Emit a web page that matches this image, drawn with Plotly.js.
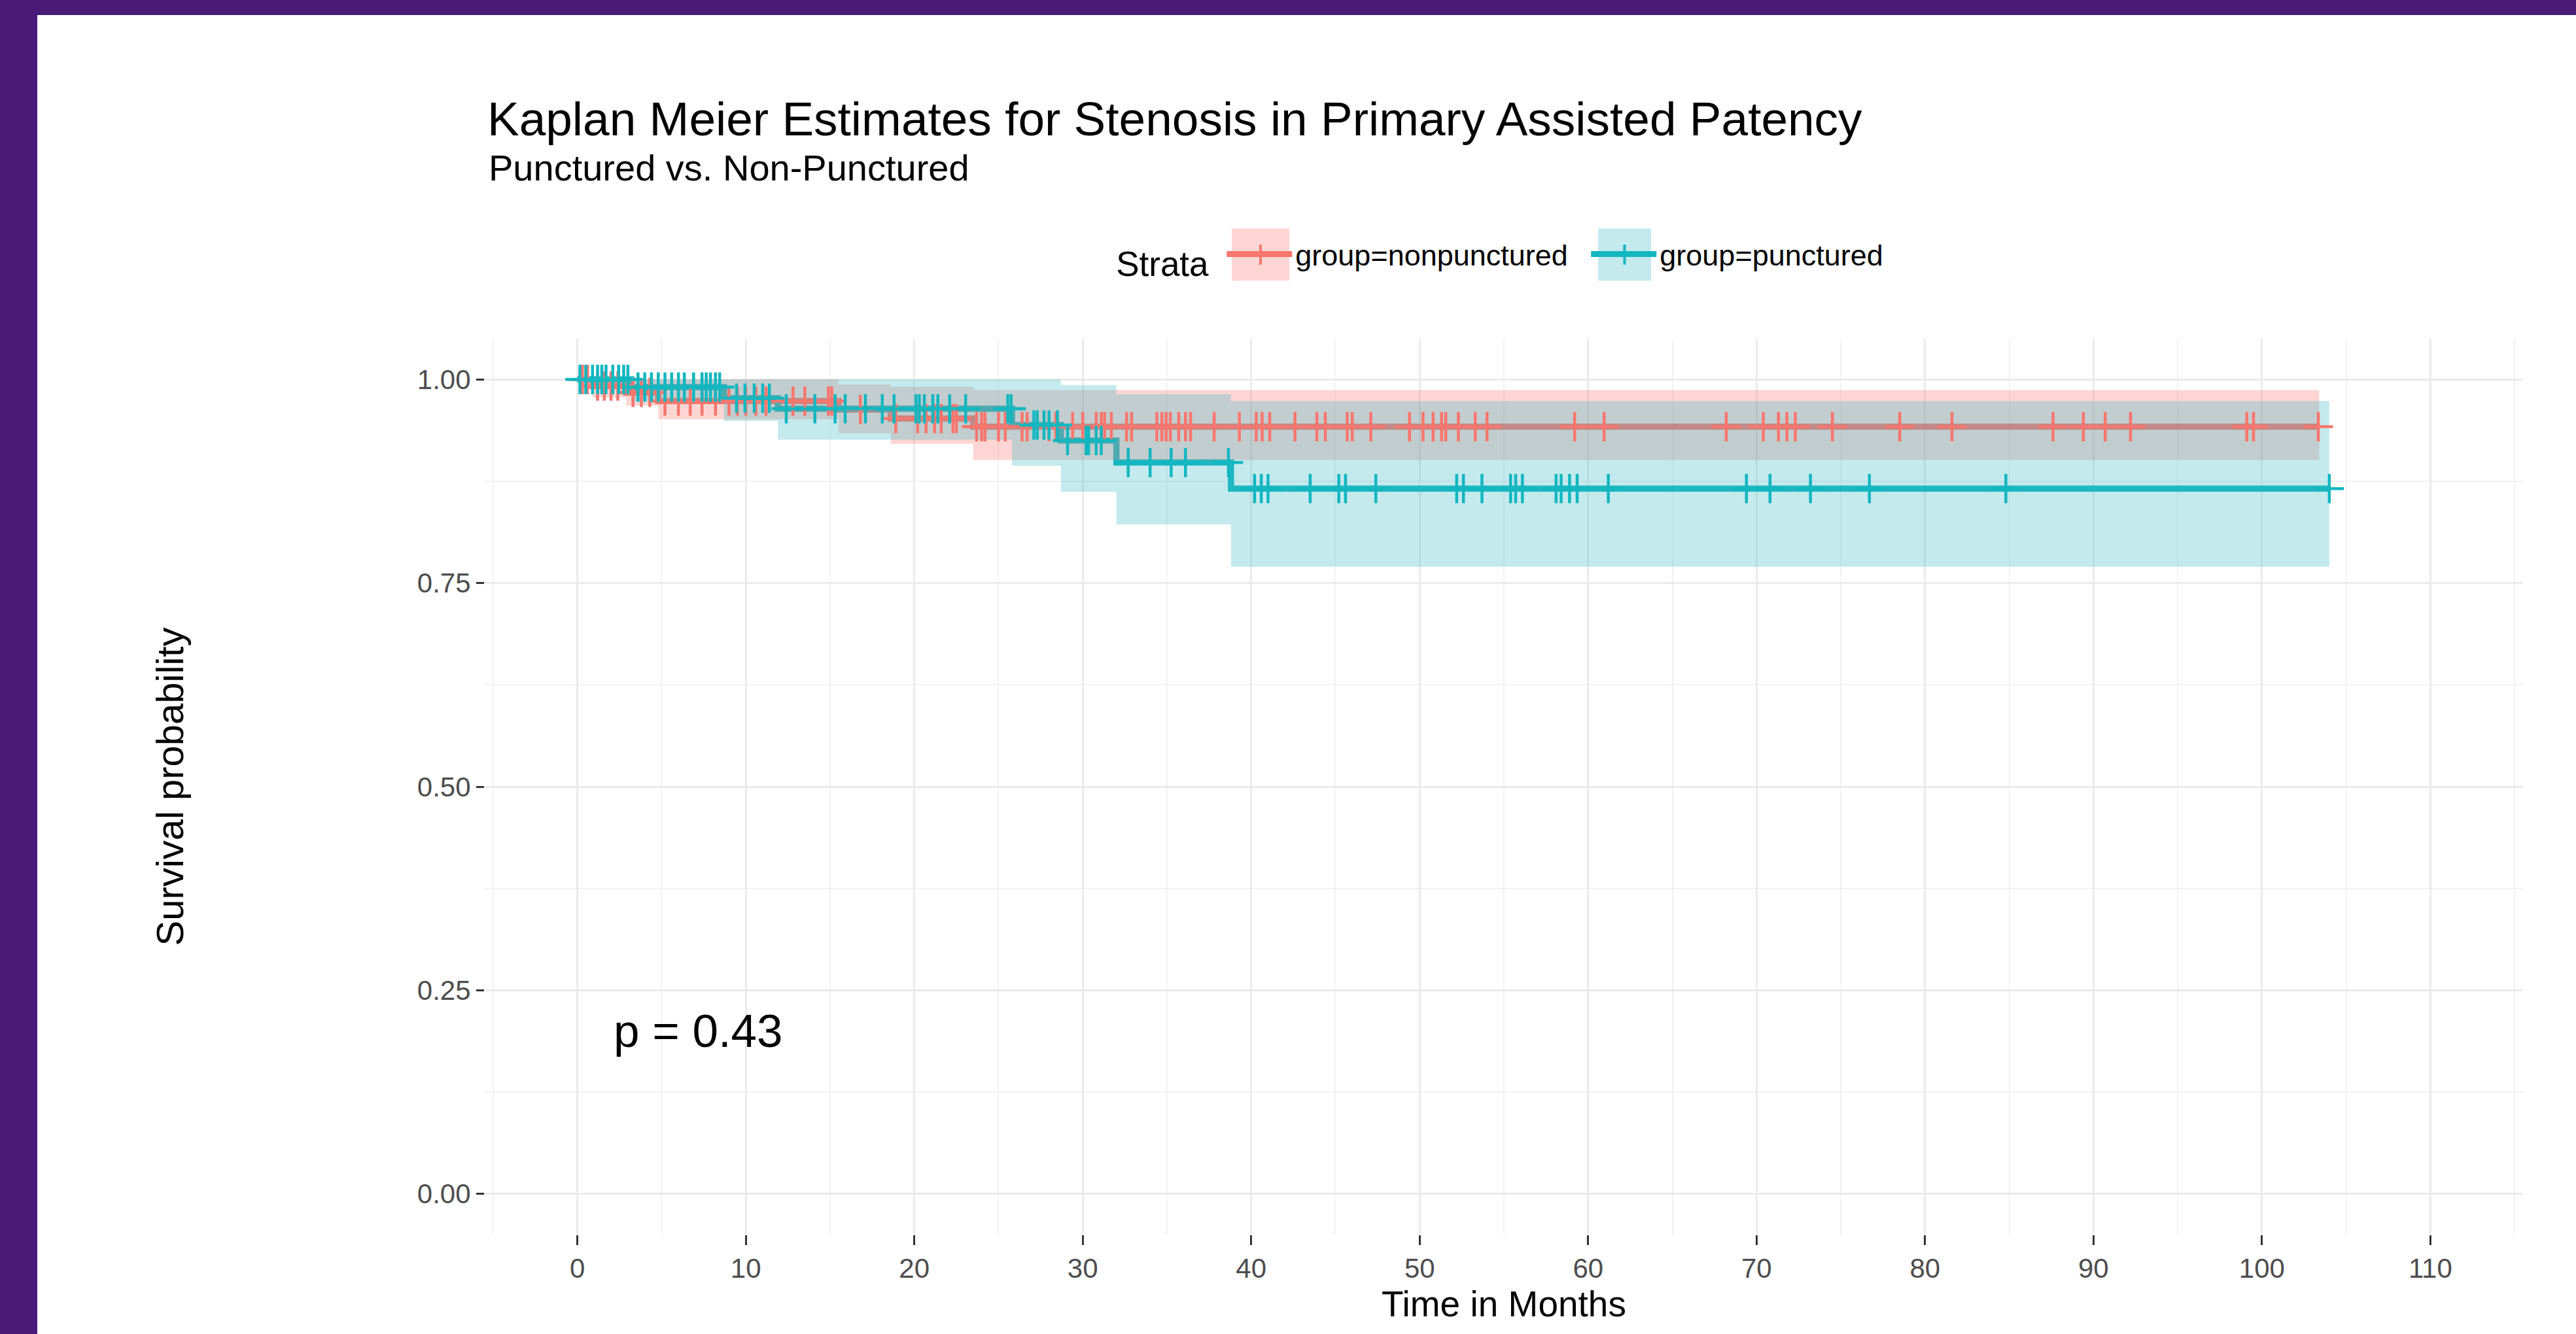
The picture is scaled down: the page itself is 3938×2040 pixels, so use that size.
<!DOCTYPE html>
<html><head><meta charset="utf-8">
<script src="https://cdn.plot.ly/plotly-3.0.1.min.js"></script>
<style>
html,body{margin:0;padding:0;background:#4A1A77;width:3938px;height:2040px;overflow:hidden;}
#chart{position:absolute;left:57px;top:23px;width:3881px;height:2017px;background:#fff;}
</style></head><body><div id="chart"></div>
<script>
// ---- data ----
const groupNames = ['group=nonpunctured', 'group=punctured'];
// nonpunctured (red) Kaplan-Meier steps
const redTime  = [0, 0.9, 2.9, 4.8, 15.5, 18.6, 23.5, 103.4];
const redSurv  = [1, 0.992, 0.984, 0.9735, 0.963, 0.952, 0.942, 0.942];
const redUpper = [1, 1, 1, 1, 0.994, 0.991, 0.987, 0.987];
const redLower = [1, 0.978, 0.968, 0.951, 0.934, 0.921, 0.901, 0.901];
// punctured (teal) Kaplan-Meier steps
const tealTime  = [0, 3.2, 8.7, 11.9, 25.8, 28.7, 32.0, 38.8, 104.0];
const tealSurv  = [1, 0.9906, 0.977, 0.964, 0.944, 0.925, 0.898, 0.866, 0.866];
const tealUpper = [1, 1, 1, 1, 1, 0.993, 0.982, 0.9735, 0.9735];
const tealLower = [1, 0.973, 0.949, 0.926, 0.894, 0.862, 0.822, 0.770, 0.770];
// censoring times
const redCensor = [0.3, 0.6, 1.2, 1.6, 2.0, 2.4, 3.3, 3.8, 4.3, 5.2, 6.0, 6.7, 7.4, 8.2, 9.0, 9.5, 10.0, 10.6, 11.2,
  12.8, 13.5, 14.9, 15.1, 16.8, 18.9, 20.2, 20.7, 21.2, 21.6, 22.3, 22.5, 23.7, 24.0, 24.2, 25.0, 25.4, 26.4, 26.7,
  28.0, 28.4, 29.4, 30.0, 30.8, 31.1, 31.3, 31.7, 32.6, 32.9, 34.4, 34.7, 34.95, 35.2, 35.7, 36.1, 36.4, 37.8, 39.3,
  40.3, 40.65, 41.1, 42.6, 43.9, 44.4, 45.7, 46.0, 47.1, 49.4, 50.2, 50.8, 51.3, 51.55, 52.3, 53.3, 54.0, 59.2, 60.95,
  68.2, 70.4, 71.3, 71.8, 72.3, 74.5, 78.5, 81.6, 87.6, 89.4, 90.7, 92.2, 99.1, 99.5, 103.35];
const tealCensor = [0.15, 0.5, 0.9, 1.2, 1.45, 1.7, 2.1, 2.45, 2.75, 3.0, 3.6, 4.0, 4.4, 4.8, 5.2, 5.6, 6.0, 6.35, 6.9,
  7.4, 7.65, 7.9, 8.2, 8.45, 9.45, 9.95, 10.5, 11.0, 11.4, 12.4, 14.1, 15.3, 15.9, 17.1, 18.1, 18.8, 20.1, 20.3, 20.6,
  21.1, 21.4, 22.1, 23.05, 25.55, 25.75, 27.1, 27.3, 27.7, 28.0, 28.5, 29.1, 30.2, 30.35, 30.8, 31.1, 32.7, 34.0, 35.25,
  36.1, 38.65, 40.2, 40.6, 41.0, 43.5, 45.2, 45.6, 47.4, 52.2, 52.6, 53.7, 55.4, 55.7, 56.1, 58.1, 58.4, 58.9, 59.35,
  61.2, 69.4, 70.8, 73.2, 76.7, 84.8, 104.0];
const xTicks = [0, 10, 20, 30, 40, 50, 60, 70, 80, 90, 100, 110];
const yTicks = [0, 0.25, 0.5, 0.75, 1];
const yTickText = ['0.00', '0.25', '0.50', '0.75', '1.00'];
const titleText = 'Kaplan Meier Estimates for Stenosis in Primary Assisted Patency';
const subtitleText = 'Punctured vs. Non-Punctured';
const pValueText = 'p = 0.43';

// ---- helpers ----
function stepAt(times, vals, t) {
  let v = vals[0];
  for (let i = 0; i < times.length; i++) if (times[i] <= t) v = vals[i];
  return v;
}
const RED = '#F8766D', TEAL = '#12B7C0';
const RED_FILL = 'rgba(248,118,109,0.3)', TEAL_FILL = 'rgba(58,185,198,0.3)';
const FONT = 'Liberation Sans, Arial, Helvetica, sans-serif';

function lineTrace(t, s, c) {
  return {x: t, y: s, type: 'scatter', mode: 'lines', line: {color: c, width: 9.5, shape: 'hv'},
          showlegend: false, hoverinfo: 'skip'};
}
function bandTraces(t, lo, up, fill) {
  return [
    {x: t, y: lo, type: 'scatter', mode: 'lines', line: {width: 0, shape: 'hv'}, showlegend: false, hoverinfo: 'skip'},
    {x: t, y: up, type: 'scatter', mode: 'lines', line: {width: 0, shape: 'hv'}, fill: 'tonexty', fillcolor: fill,
     showlegend: false, hoverinfo: 'skip'}
  ];
}
function censorTrace(ct, t, s, c) {
  return {x: ct, y: ct.map(v => stepAt(t, s, v)), type: 'scatter', mode: 'markers',
          marker: {symbol: 'cross-thin', size: 32, line: {color: c, width: 4.5}}, showlegend: false, hoverinfo: 'skip'};
}
function legendTrace(name, c) {
  return {x: [null], y: [null], type: 'scatter', mode: 'lines', name: name,
          line: {color: c, width: 9}};
}

const data = [
  lineTrace(redTime, redSurv, RED),
  lineTrace(tealTime, tealSurv, TEAL),
  ...bandTraces(redTime, redLower, redUpper, RED_FILL),
  ...bandTraces(tealTime, tealLower, tealUpper, TEAL_FILL),
  censorTrace(redCensor, redTime, redSurv, RED),
  censorTrace(tealCensor, tealTime, tealSurv, TEAL),
  legendTrace(groupNames[0], RED),
  legendTrace(groupNames[1], TEAL)
];

// legend key boxes and '+' glyphs (paper coordinates)
const keyY0 = 1.06471, keyY1 = 1.12308, keyYc = 1.0939, keyHalf = 0.0112;
const keys = [
  {x0: 0.36650, x1: 0.39474, xc: 0.38062, fill: RED_FILL, col: RED},
  {x0: 0.54621, x1: 0.57221, xc: 0.55921, fill: TEAL_FILL, col: TEAL}
];
const shapes = [];
keys.forEach(k => {
  shapes.push({type: 'rect', xref: 'paper', yref: 'paper', x0: k.x0, x1: k.x1, y0: keyY0, y1: keyY1,
               fillcolor: k.fill, line: {width: 0}, layer: 'below'});
  shapes.push({type: 'line', xref: 'paper', yref: 'paper', x0: k.xc, x1: k.xc, y0: keyYc - keyHalf, y1: keyYc + keyHalf,
               line: {color: k.col, width: 4}, layer: 'above'});
});

const layout = {
  width: 3881, height: 2017,
  paper_bgcolor: '#ffffff', plot_bgcolor: '#ffffff',
  font: {family: FONT, color: '#000000'},
  margin: {l: 684, r: 81, t: 495, b: 152, pad: 0},
  title: {
    text: titleText,
    font: {family: FONT, size: 73, color: '#000000'},
    x: 0.17727, xref: 'container', xanchor: 'left',
    y: 0.9343, yref: 'container', yanchor: 'top'
  },
  showlegend: true,
  legend: {
    orientation: 'h', x: 0.3091, xanchor: 'left', y: 1.0917, yanchor: 'middle',
    bgcolor: 'rgba(0,0,0,0)', font: {family: FONT, size: 45, color: '#000000'},
    title: {text: 'Strata&nbsp;', side: 'left', font: {family: FONT, size: 53, color: '#000000'}},
    itemwidth: 100, entrywidth: 442, entrywidthmode: 'pixels', traceorder: 'normal'
  },
  shapes: shapes,
  xaxis: {
    range: [-5.5, 115.5], tickvals: xTicks, ticktext: xTicks.map(String),
    showgrid: true, gridcolor: '#EBEBEB', gridwidth: 3, zeroline: false, showline: false,
    ticks: 'outside', ticklen: 15, tickwidth: 3, tickcolor: '#333333',
    tickfont: {family: FONT, size: 42, color: '#4D4D4D'},
    minor: {dtick: 5, tick0: 0, showgrid: true, gridcolor: '#F2F2F2', gridwidth: 2, ticks: ''},
    title: {text: 'Time in Months', font: {family: FONT, size: 55, color: '#000000'}, standoff: 4}
  },
  yaxis: {
    range: [-0.05, 1.05], tickvals: yTicks, ticktext: yTickText,
    showgrid: true, gridcolor: '#EBEBEB', gridwidth: 3, zeroline: false, showline: false,
    ticks: 'outside', ticklen: 12, tickwidth: 3, tickcolor: '#333333',
    tickfont: {family: FONT, size: 42, color: '#4D4D4D'},
    minor: {dtick: 0.125, tick0: 0, showgrid: true, gridcolor: '#F2F2F2', gridwidth: 2, ticks: ''},
    title: {text: 'Survival probability', font: {family: FONT, size: 58, color: '#000000'}, standoff: 338}
  },
  annotations: [
    {text: subtitleText, x: 0.00128, y: 1.1909, xref: 'paper', yref: 'paper', xanchor: 'left', yanchor: 'middle',
     showarrow: false, font: {family: FONT, size: 56, color: '#000000'}},
    {text: pValueText, x: 2.08, y: 0.2, xref: 'x', yref: 'y', xanchor: 'left', yanchor: 'middle',
     showarrow: false, font: {family: FONT, size: 71, color: '#000000'}}
  ]
};

Plotly.newPlot('chart', data, layout, {staticPlot: true, displayModeBar: false});
</script></body></html>
